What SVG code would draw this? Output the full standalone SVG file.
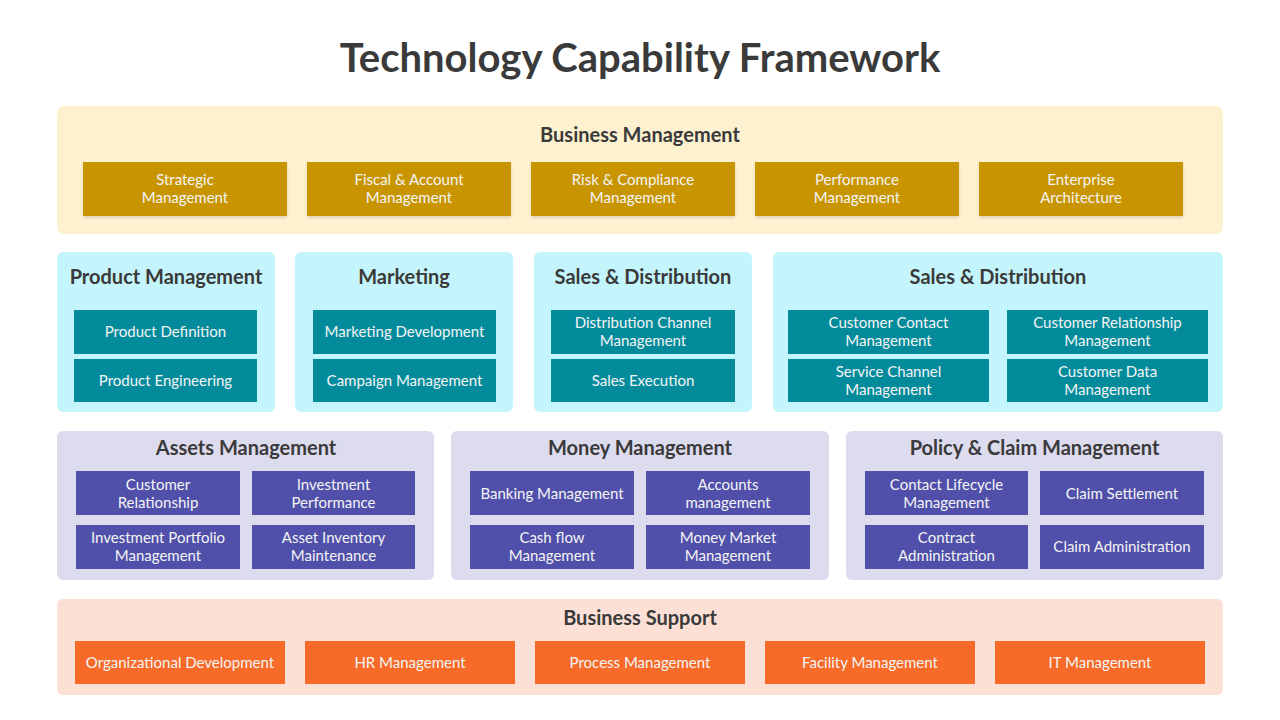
<svg xmlns="http://www.w3.org/2000/svg" width="1280" height="720" viewBox="0 0 1280 720">
<defs>
<filter id="sh" x="-5%" y="-10%" width="110%" height="130%">
<feDropShadow dx="0" dy="2" stdDeviation="1.5" flood-color="#000" flood-opacity="0.12"/>
</filter>
</defs>
<style>
.title{font-family:Lato,"Open Sans","Liberation Sans",sans-serif;font-weight:700;font-size:40px;fill:#3a3a3a;text-anchor:middle}
.hdr{font-family:Lato,"Open Sans","Liberation Sans",sans-serif;font-weight:700;font-size:20px;fill:#3a3a3a;text-anchor:middle}
.bt{font-family:Lato,"Open Sans","Liberation Sans",sans-serif;font-size:15px;fill:#f4f4f4;text-anchor:middle}
.pY{fill:#FEF1D0}.bY{fill:#C89504}
.pT{fill:#C5F5FC}.bT{fill:#038B9C}
.pP{fill:#DDDBEE}.bP{fill:#5050AA}
.pO{fill:#FCE0D6}.bO{fill:#F76A28}
</style>
<rect width="1280" height="720" fill="#ffffff"/>
<text class="title" x="640" y="72">Technology Capability Framework</text>

<g id="business-management">
<rect class="pY" x="57" y="106" width="1166" height="128" rx="7"/>
<text class="hdr" x="640" y="142">Business Management</text>
<g filter="url(#sh)">
<rect class="bY" x="83" y="162" width="204" height="54"/>
<rect class="bY" x="307" y="162" width="204" height="54"/>
<rect class="bY" x="531" y="162" width="204" height="54"/>
<rect class="bY" x="755" y="162" width="204" height="54"/>
<rect class="bY" x="979" y="162" width="204" height="54"/>
</g>
<text class="bt" x="185" y="185">Strategic</text><text class="bt" x="185" y="203">Management</text>
<text class="bt" x="409" y="185">Fiscal &amp; Account</text><text class="bt" x="409" y="203">Management</text>
<text class="bt" x="633" y="185">Risk &amp; Compliance</text><text class="bt" x="633" y="203">Management</text>
<text class="bt" x="857" y="185">Performance</text><text class="bt" x="857" y="203">Management</text>
<text class="bt" x="1081" y="185">Enterprise</text><text class="bt" x="1081" y="203">Architecture</text>
</g>

<g id="product-management">
<rect class="pT" x="57" y="252" width="218" height="160" rx="6"/>
<text class="hdr" x="166" y="284">Product Management</text>
<rect class="bT" x="74" y="310" width="183" height="44"/>
<rect class="bT" x="74" y="359" width="183" height="43"/>
<text class="bt" x="165.5" y="337">Product Definition</text>
<text class="bt" x="165.5" y="386">Product Engineering</text>
</g>

<g id="marketing">
<rect class="pT" x="295" y="252" width="218" height="160" rx="6"/>
<text class="hdr" x="404" y="284">Marketing</text>
<rect class="bT" x="313" y="310" width="183" height="44"/>
<rect class="bT" x="313" y="359" width="183" height="43"/>
<text class="bt" x="404.5" y="337">Marketing Development</text>
<text class="bt" x="404.5" y="386">Campaign Management</text>
</g>

<g id="sales-distribution-1">
<rect class="pT" x="534" y="252" width="218" height="160" rx="6"/>
<text class="hdr" x="643" y="284">Sales &amp; Distribution</text>
<rect class="bT" x="551" y="310" width="184" height="44"/>
<rect class="bT" x="551" y="359" width="184" height="43"/>
<text class="bt" x="643" y="328">Distribution Channel</text><text class="bt" x="643" y="346">Management</text>
<text class="bt" x="643" y="386">Sales Execution</text>
</g>

<g id="sales-distribution-2">
<rect class="pT" x="773" y="252" width="450" height="160" rx="6"/>
<text class="hdr" x="998" y="284">Sales &amp; Distribution</text>
<rect class="bT" x="788" y="310" width="201" height="44"/>
<rect class="bT" x="1007" y="310" width="201" height="44"/>
<rect class="bT" x="788" y="359" width="201" height="43"/>
<rect class="bT" x="1007" y="359" width="201" height="43"/>
<text class="bt" x="888.5" y="328">Customer Contact</text><text class="bt" x="888.5" y="346">Management</text>
<text class="bt" x="1107.5" y="328">Customer Relationship</text><text class="bt" x="1107.5" y="346">Management</text>
<text class="bt" x="888.5" y="377">Service Channel</text><text class="bt" x="888.5" y="395">Management</text>
<text class="bt" x="1107.5" y="377">Customer Data</text><text class="bt" x="1107.5" y="395">Management</text>
</g>

<g id="assets-management">
<rect class="pP" x="57" y="431" width="377" height="149" rx="6"/>
<text class="hdr" x="246" y="455">Assets Management</text>
<rect class="bP" x="76" y="471" width="164" height="44"/>
<rect class="bP" x="252" y="471" width="163" height="44"/>
<rect class="bP" x="76" y="525" width="164" height="44"/>
<rect class="bP" x="252" y="525" width="163" height="44"/>
<text class="bt" x="158" y="490">Customer</text><text class="bt" x="158" y="508">Relationship</text>
<text class="bt" x="333.5" y="490">Investment</text><text class="bt" x="333.5" y="508">Performance</text>
<text class="bt" x="158" y="543">Investment Portfolio</text><text class="bt" x="158" y="561">Management</text>
<text class="bt" x="333.5" y="543">Asset Inventory</text><text class="bt" x="333.5" y="561">Maintenance</text>
</g>

<g id="money-management">
<rect class="pP" x="451" y="431" width="378" height="149" rx="6"/>
<text class="hdr" x="640" y="455">Money Management</text>
<rect class="bP" x="470" y="471" width="164" height="44"/>
<rect class="bP" x="646" y="471" width="164" height="44"/>
<rect class="bP" x="470" y="525" width="164" height="44"/>
<rect class="bP" x="646" y="525" width="164" height="44"/>
<text class="bt" x="552" y="499">Banking Management</text>
<text class="bt" x="728" y="490">Accounts</text><text class="bt" x="728" y="508">management</text>
<text class="bt" x="552" y="543">Cash flow</text><text class="bt" x="552" y="561">Management</text>
<text class="bt" x="728" y="543">Money Market</text><text class="bt" x="728" y="561">Management</text>
</g>

<g id="policy-claim-management">
<rect class="pP" x="846" y="431" width="377" height="149" rx="6"/>
<text class="hdr" x="1034.5" y="455">Policy &amp; Claim Management</text>
<rect class="bP" x="865" y="471" width="163" height="44"/>
<rect class="bP" x="1040" y="471" width="164" height="44"/>
<rect class="bP" x="865" y="525" width="163" height="44"/>
<rect class="bP" x="1040" y="525" width="164" height="44"/>
<text class="bt" x="946.5" y="490">Contact Lifecycle</text><text class="bt" x="946.5" y="508">Management</text>
<text class="bt" x="1122" y="499">Claim Settlement</text>
<text class="bt" x="946.5" y="543">Contract</text><text class="bt" x="946.5" y="561">Administration</text>
<text class="bt" x="1122" y="552">Claim Administration</text>
</g>

<g id="business-support">
<rect class="pO" x="57" y="599" width="1166" height="96" rx="6"/>
<text class="hdr" x="640" y="625">Business Support</text>
<rect class="bO" x="75" y="641" width="210" height="43"/>
<rect class="bO" x="305" y="641" width="210" height="43"/>
<rect class="bO" x="535" y="641" width="210" height="43"/>
<rect class="bO" x="765" y="641" width="210" height="43"/>
<rect class="bO" x="995" y="641" width="210" height="43"/>
<text class="bt" x="180" y="668">Organizational Development</text>
<text class="bt" x="410" y="668">HR Management</text>
<text class="bt" x="640" y="668">Process Management</text>
<text class="bt" x="870" y="668">Facility Management</text>
<text class="bt" x="1100" y="668">IT Management</text>
</g>

<g id="connectors"></g>
</svg>
